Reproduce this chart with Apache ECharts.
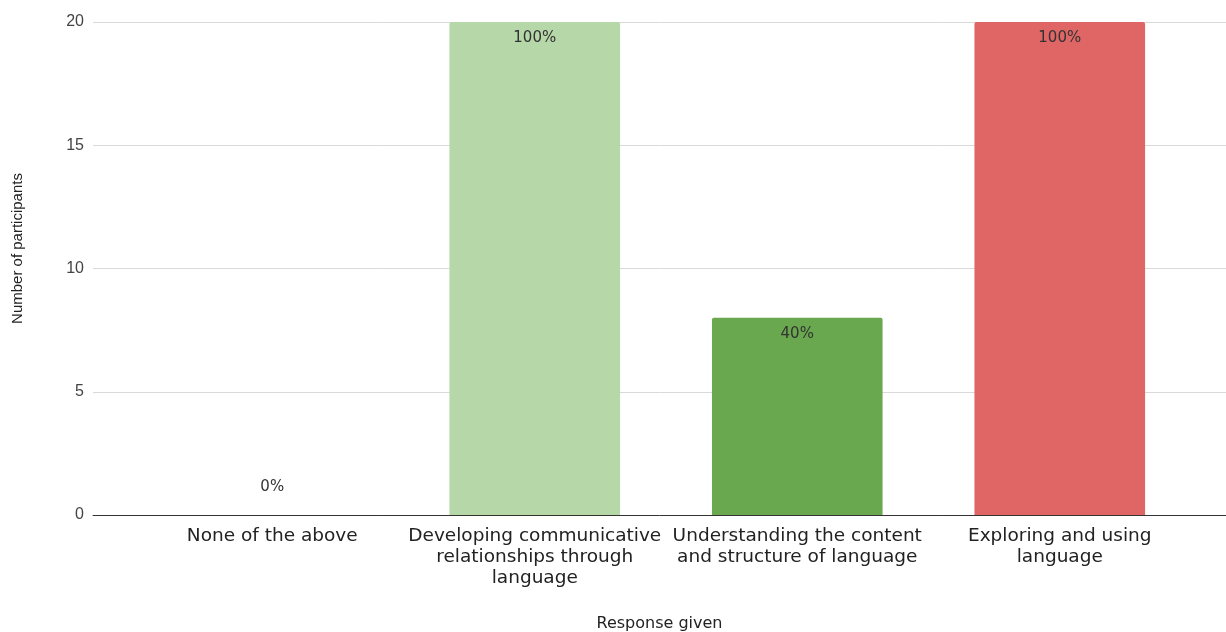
<!DOCTYPE html>
<html><head><meta charset="utf-8">
<script src="https://cdn.jsdelivr.net/npm/echarts@6/dist/echarts.min.js"></script>
<style>html,body{margin:0;padding:0;background:#fff}#c{width:1226px;height:632px}</style>
</head><body><div id="c"></div>
<script>
const categories = ["None of the above", "Developing communicative\nrelationships through\nlanguage", "Understanding the content\nand structure of language", "Exploring and using\nlanguage"];
const values = [0, 20, 8, 20];
const percentLabels = ["0%", "100%", "40%", "100%"];
const barColors = ["#b6d7a8", "#b6d7a8", "#6aa84f", "#e06666"];
const yTicks = [0, 5, 10, 15, 20];

const FONT = "Liberation Sans, Arial, sans-serif";
const WIDE = "DejaVu Sans, sans-serif";
const chart = echarts.init(document.getElementById('c'));
chart.setOption({
  animation: false,
  grid: [
    {left: 93, right: 0, top: 22, bottom: 117, containLabel: false, outerBoundsMode: 'none'},
    {left: 141, right: 35, top: 22, bottom: 117, containLabel: false, outerBoundsMode: 'none'}
  ],
  xAxis: [
    {gridIndex: 0, type: 'category', data: [''], axisLine: {show: true, lineStyle: {color: '#333', width: 1}},
     axisTick: {show: false}, axisLabel: {show: false},
     name: 'Response given', nameLocation: 'middle', nameGap: 101,
     nameTextStyle: {fontFamily: WIDE, fontSize: 16, color: '#222'}},
    {gridIndex: 1, type: 'category', data: categories, axisLine: {show: false}, axisTick: {show: false},
     axisLabel: {interval: 0, margin: 11, fontFamily: WIDE, fontSize: 18.5, color: '#222', lineHeight: 21}}
  ],
  yAxis: [
    {gridIndex: 0, type: 'value', min: 0, max: yTicks[yTicks.length-1], interval: 5,
     axisLine: {show: false}, axisTick: {show: false},
     axisLabel: {margin: 9, fontFamily: FONT, fontSize: 16, color: '#444'},
     splitLine: {lineStyle: {color: '#d9d9d9', width: 1}},
     name: 'Number of participants', nameLocation: 'middle', nameGap: 68,
     nameTextStyle: {fontFamily: FONT, fontSize: 15, color: '#222', padding: [0, 0, 0, 40]}},
    {gridIndex: 1, type: 'value', min: 0, max: 20, interval: 5, show: false, splitLine: {show: false}}
  ],
  series: [{
    type: 'bar', xAxisIndex: 1, yAxisIndex: 1, barWidth: '65%',
    data: values.map((v, i) => ({
      value: v,
      itemStyle: {color: barColors[i], borderRadius: [2, 2, 0, 0]},
      label: v === 0 ? {position: 'top', distance: 20} : {}
    })),
    label: {show: true, position: 'insideTop', distance: 9, fontFamily: WIDE, fontSize: 15, color: '#333',
      formatter: p => percentLabels[p.dataIndex]}
  }]
});
</script></body></html>
